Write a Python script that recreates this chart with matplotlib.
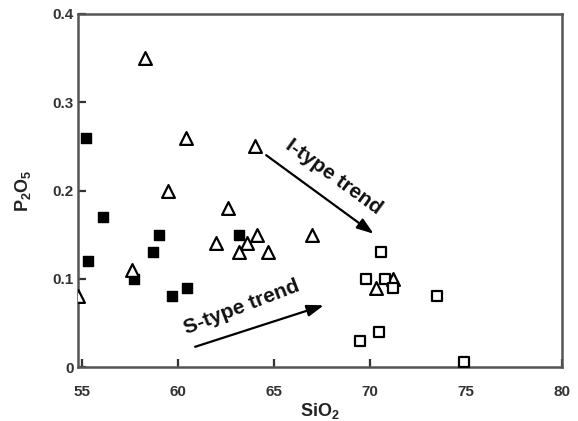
import matplotlib
matplotlib.use("Agg")
import matplotlib.pyplot as plt

plt.rcParams['font.family'] = ['Liberation Sans', 'DejaVu Sans']
plt.rcParams['font.weight'] = 'bold'
plt.rcParams['mathtext.default'] = 'regular'

# Filled squares
sq_filled_x = [55.2, 56.1, 55.3, 59.0, 58.7, 57.7, 59.7, 60.5, 63.2]
sq_filled_y = [0.26, 0.17, 0.12, 0.15, 0.13, 0.10, 0.08, 0.09, 0.15]

# Open triangles
tri_x = [58.3, 60.4, 64.0, 59.5, 62.6, 57.6, 54.8, 62.0, 64.1, 63.6, 63.2, 64.7, 67.0, 71.2, 70.3]
tri_y = [0.35, 0.26, 0.25, 0.20, 0.18, 0.11, 0.08, 0.14, 0.15, 0.14, 0.13, 0.13, 0.15, 0.10, 0.09]

# Open squares
sq_open_x = [70.6, 69.8, 70.8, 71.2, 73.5, 70.5, 69.5, 74.9]
sq_open_y = [0.13, 0.10, 0.10, 0.09, 0.08, 0.04, 0.03, 0.006]

x_ticks = [55, 60, 65, 70, 75, 80]
y_ticks = [0, 0.1, 0.2, 0.3, 0.4]
y_tick_labels = ['0', '0.1', '0.2', '0.3', '0.4']

fig = plt.figure(figsize=(5.78, 4.21), dpi=100)
ax = fig.add_axes([0.135, 0.128, 0.837, 0.839])

ax.scatter(sq_filled_x, sq_filled_y, marker='s', s=55, c='black', zorder=3)
ax.scatter(tri_x, tri_y, marker='^', s=85, facecolors='white', edgecolors='black',
           linewidths=1.6, zorder=3)
ax.scatter(sq_open_x, sq_open_y, marker='s', s=60, facecolors='white', edgecolors='black',
           linewidths=1.6, zorder=3)

arrow_style = dict(arrowstyle='-|>,head_length=1.0,head_width=0.35', color='black', lw=1.6,
                   shrinkA=0, shrinkB=0)
ax.annotate('', xy=(70.2, 0.151), xytext=(64.6, 0.240), arrowprops=arrow_style)
ax.annotate('', xy=(67.6, 0.070), xytext=(60.9, 0.023), arrowprops=arrow_style)

ax.text(68.1, 0.215, 'I-type trend', rotation=-36, ha='center', va='center',
        rotation_mode='anchor', fontsize=15, fontweight='bold', color='#111111')
ax.text(63.3, 0.068, 'S-type trend', rotation=21, ha='center', va='center',
        rotation_mode='anchor', fontsize=15, fontweight='bold', color='#111111')

ax.set_xlim(54.8, 80)
ax.set_ylim(0, 0.4)
ax.set_xticks(x_ticks)
ax.set_yticks(y_ticks)
ax.set_yticklabels(y_tick_labels)
ax.tick_params(direction='in', length=6, width=1.6, color='#333333',
               labelsize=11, labelcolor='#333333')
ax.tick_params(axis='x', pad=13)
ax.tick_params(axis='y', pad=3)
for lbl in ax.get_xticklabels() + ax.get_yticklabels():
    lbl.set_fontweight('bold')

for sp in ax.spines.values():
    sp.set_color('#555555')
    sp.set_linewidth(1.8)

ax.set_xlabel('SiO$_2$', fontsize=13, fontweight='bold', color='#222222', labelpad=1)
ax.set_ylabel('P$_2$O$_5$', fontsize=13, fontweight='bold', color='#222222', labelpad=14)

fig.savefig('out.png', dpi=100)
